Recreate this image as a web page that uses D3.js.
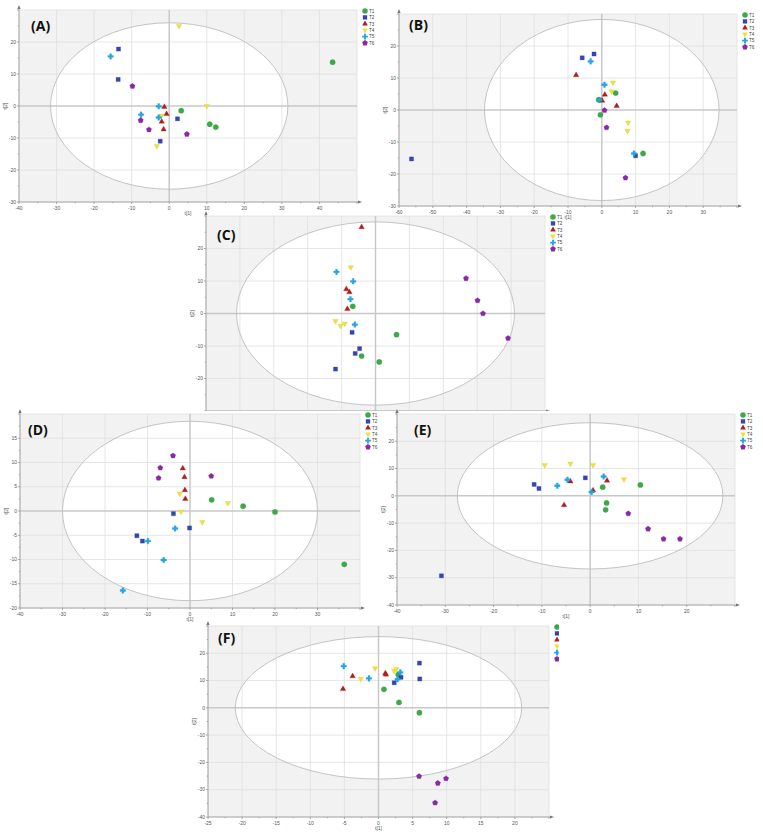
<!DOCTYPE html>
<html><head><meta charset="utf-8">
<script src="https://cdn.jsdelivr.net/npm/d3@7"></script>
<style>body{margin:0;background:#fff}svg{display:block}</style>
</head><body>
<svg id="c" width="763" height="836"></svg>
<script>
// ---------- data ----------
const groups = ["T1","T2","T3","T4","T5","T6"];
const panelNames = ["(A)","(B)","(C)","(D)","(E)","(F)"];
// each panel: one array per group T1..T6 of [t1, t2] scores
const scoresA = [
  [[3.2,-1.45],[10.8,-5.7],[12.4,-6.6],[43.5,13.7]],
  [[-13.5,17.8],[-13.6,8.3],[2.2,-4.0],[-2.4,-11.0]],
  [[-1.3,-0.3],[-0.7,-2.5],[-2.0,-4.9],[-1.5,-7.3]],
  [[2.6,25],[10.0,0],[-2.1,-3.0],[-3.3,-12.5]],
  [[-15.6,15.5],[-2.8,-0.1],[-7.5,-2.7],[-2.8,-3.6]],
  [[-9.8,6.2],[-7.6,-4.5],[-5.4,-7.4],[4.7,-8.8]]
];
const scoresB = [
  [[-0.9,3.2],[4.1,5.3],[-0.4,-1.5],[12.2,-13.6]],
  [[-56.3,-15.3],[-5.8,16.3],[-2.3,17.5],[10.0,-14.3]],
  [[-7.6,10.9],[0.9,4.8],[0.1,2.9],[4.4,1.25]],
  [[3.3,8.6],[2.9,5.8],[7.8,-3.9],[7.6,-6.5]],
  [[-3.3,15.2],[0.8,7.9],[-0.7,3.1],[9.5,-13.6]],
  [[0.8,-0.1],[1.4,-5.5],[7.0,-21.2]]
];
const scoresC = [
  [[-6.7,2.2],[-4.1,-13.1],[1.1,-14.9],[6.2,-6.5]],
  [[-6.9,-5.8],[-4.7,-10.8],[-6.0,-12.3],[-11.8,-17.1]],
  [[-4.1,26.6],[-8.6,7.5],[-7.7,6.6],[-8.3,1.4]],
  [[-7.3,14.2],[-11.8,-2.3],[-10.3,-3.8],[-9.1,-3.1]],
  [[-11.5,12.8],[-6.6,9.9],[-7.4,4.4],[-6.1,-3.4]],
  [[26.7,10.8],[30.1,4.0],[31.7,0],[39.1,-7.6]]
];
const scoresD = [
  [[5.1,2.3],[12.5,1.0],[20.0,-0.2],[36.3,-11.0]],
  [[-3.9,-0.55],[-0.1,-3.5],[-12.5,-5.1],[-11.2,-6.2]],
  [[-1.7,8.8],[-1.3,7.0],[-1.2,4.3],[-1.1,2.5]],
  [[-2.4,3.6],[-2.1,-0.1],[8.9,1.65],[2.9,-2.3]],
  [[-3.5,-3.6],[-9.9,-6.2],[-6.2,-10.1],[-15.8,-16.4]],
  [[-4.0,11.4],[-7.0,8.9],[-7.4,6.8],[5.0,7.2]]
];
const scoresE = [
  [[2.6,3.2],[10.4,4.0],[3.4,-2.6],[3.2,-5.1]],
  [[-30.8,-29.3],[-11.6,4.2],[-10.6,2.7],[-1.0,6.6]],
  [[-4.1,5.3],[-5.4,-3.4],[3.5,5.6],[0.6,2.0]],
  [[-9.4,11.3],[-4.1,11.8],[0.6,11.3],[7.0,6.1]],
  [[-6.8,3.7],[-4.7,5.9],[2.8,7.1],[0.3,1.4]],
  [[7.9,-6.5],[12.0,-12.1],[15.2,-15.8],[18.6,-15.8]]
];
const scoresF = [
  [[0.8,6.8],[3.0,2.0],[6.0,-1.8],[2.9,12.2]],
  [[6.0,16.4],[6.05,10.6],[3.3,11.2],[2.3,9.2]],
  [[-3.8,11.6],[-5.2,6.9],[1.0,12.6],[1.1,12.2]],
  [[-2.6,10.6],[-0.5,14.5],[2.3,13.6],[2.6,14.2]],
  [[-5.1,15.3],[-1.4,10.8],[3.2,13.0],[2.8,10.5]],
  [[5.95,-25.1],[8.7,-27.6],[9.9,-25.9],[8.3,-34.8]]
];
// axis ranges, tick steps and Hotelling ellipse radii (t1, t2)
const xDomains = [[-40,50],[-60,40],[-50,50],[-40,40],[-40,30],[-25,25]];
const yDomains = [[-30,30],[-30,30],[-30,30],[-20,20],[-40,30],[-40,30]];
const xSteps = [10,10,10,10,10,5];
const ySteps = [10,10,10,5,10,10];
const ellipseRadii = [[31.6,26],[34.7,28.3],[41,28.2],[30,18.5],[27.5,26.8],[21,26.1]];
const allScores = [scoresA,scoresB,scoresC,scoresD,scoresE,scoresF];

// ---------- layout / style ----------
const boxes = [
  {l:19,t:10,w:338,h:192, lab:[31,31]},
  {l:399,t:14,w:338,h:192, lab:[409,30]},
  {l:206,t:216,w:339,h:195, lab:[217,240], clip:[0,200,763,211]},
  {l:20,t:414,w:340,h:194, lab:[28,435]},
  {l:397,t:414,w:338,h:191, lab:[414,435]},
  {l:208,t:626,w:341,h:191, lab:[218,643], clip:[0,600,559,236]}
];
const colors = ["#3daa47","#3447b0","#b51d1d","#eee23c","#1ea9ea","#8b27a8"];
function pentagon(r){
  const p=[];
  for(let i=0;i<5;i++){const a=-Math.PI/2+i*2*Math.PI/5;p.push([r*Math.cos(a),r*Math.sin(a)]);}
  return "M"+p.map(d=>d.join(",")).join("L")+"Z";
}
const shapes = [
  s=>d3.symbol(d3.symbolCircle, 22*s)(),
  s=>d3.symbol(d3.symbolSquare, 17*s)(),
  s=>d3.symbol(d3.symbolTriangle, 13*s)(),
  s=>d3.symbol(d3.symbolTriangle, 13*s)(),
  s=>d3.symbol(d3.symbolCross, 17*s)(),
  s=>pentagon(2.8*Math.sqrt(s))
];
const rot = [0,0,0,180,0,0];

const svg = d3.select("#c");
const defs = svg.append("defs");

boxes.forEach((b,pi)=>{
  const x = d3.scaleLinear().domain(xDomains[pi]).range([b.l,b.l+b.w]);
  const y = d3.scaleLinear().domain(yDomains[pi]).range([b.t+b.h,b.t]);
  const c = b.clip || [0,0,763,836];
  const visible = (px,py,wd)=> px+(wd||0) <= c[0]+c[2] && py-3 >= c[1] && py <= c[1]+c[3];
  let g = svg.append("g");
  if(b.clip){
    defs.append("clipPath").attr("id","cp"+pi).append("rect")
      .attr("x",c[0]).attr("y",c[1]).attr("width",c[2]).attr("height",c[3]);
    g.attr("clip-path","url(#cp"+pi+")");
  }
  // background
  g.append("rect").attr("x",b.l).attr("y",b.t).attr("width",b.w).attr("height",b.h).attr("fill","#f2f2f2");
  const er = ellipseRadii[pi];
  g.append("ellipse").attr("cx",x(0)).attr("cy",y(0))
    .attr("rx",x(er[0])-x(0)).attr("ry",y(0)-y(er[1])).attr("fill","#fff");
  const xt = d3.range(xDomains[pi][0], xDomains[pi][1]+1e-6, xSteps[pi]);
  const yt = d3.range(yDomains[pi][0], yDomains[pi][1]+1e-6, ySteps[pi]);
  // grid
  g.selectAll(null).data(xt.filter(v=>v!==0)).join("line")
    .attr("x1",d=>x(d)).attr("x2",d=>x(d)).attr("y1",b.t).attr("y2",b.t+b.h)
    .attr("stroke","#e0e0e0").attr("stroke-width",0.8);
  g.selectAll(null).data(yt.filter(v=>v!==0)).join("line")
    .attr("y1",d=>y(d)).attr("y2",d=>y(d)).attr("x1",b.l).attr("x2",b.l+b.w)
    .attr("stroke","#e0e0e0").attr("stroke-width",0.8);
  // zero lines
  g.append("line").attr("x1",x(0)).attr("x2",x(0)).attr("y1",b.t).attr("y2",b.t+b.h).attr("stroke","#c8c8c8").attr("stroke-width",1.5);
  g.append("line").attr("y1",y(0)).attr("y2",y(0)).attr("x1",b.l).attr("x2",b.l+b.w).attr("stroke","#c8c8c8").attr("stroke-width",1.5);
  g.append("ellipse").attr("cx",x(0)).attr("cy",y(0))
    .attr("rx",x(er[0])-x(0)).attr("ry",y(0)-y(er[1])).attr("fill","none").attr("stroke","#bdbdbd").attr("stroke-width",0.9);
  // axes
  const ax = g.append("g").attr("stroke","#8a8a8a").attr("stroke-width",0.7);
  ax.append("line").attr("x1",b.l).attr("x2",b.l).attr("y1",b.t-3).attr("y2",b.t+b.h);
  ax.append("line").attr("x1",b.l).attr("x2",b.l+b.w+3).attr("y1",b.t+b.h).attr("y2",b.t+b.h);
  g.append("path").attr("d",`M${b.l-1.6},${b.t-1}L${b.l},${b.t-5}L${b.l+1.6},${b.t-1}Z`).attr("fill","#777");
  g.append("path").attr("d",`M${b.l+b.w+1},${b.t+b.h-1.6}L${b.l+b.w+5},${b.t+b.h}L${b.l+b.w+1},${b.t+b.h+1.6}Z`).attr("fill","#777");
  const xm = d3.range(xDomains[pi][0], xDomains[pi][1]+1e-6, xSteps[pi]/2);
  const ym = d3.range(yDomains[pi][0], yDomains[pi][1]+1e-6, ySteps[pi]/2);
  ax.selectAll(null).data(xm).join("line").attr("x1",d=>x(d)).attr("x2",d=>x(d))
    .attr("y1",b.t+b.h).attr("y2",(d,i)=>b.t+b.h+(i%2?1.2:2));
  ax.selectAll(null).data(ym).join("line").attr("y1",d=>y(d)).attr("y2",d=>y(d))
    .attr("x1",b.l).attr("x2",(d,i)=>b.l-(i%2?1.2:2));
  const tf = g.append("g").attr("font-family","Liberation Sans, Arial, sans-serif").attr("font-size",5).attr("fill","#555");
  tf.selectAll(null).data(xt.slice(0,-1).filter(d=>visible(x(d),b.t+b.h+7.5))).join("text")
    .attr("x",d=>x(d)).attr("y",b.t+b.h+7.5).attr("text-anchor","middle").text(d=>d);
  tf.selectAll(null).data(yt.slice(0,-1).filter(d=>visible(b.l-3,y(d)+1.7))).join("text")
    .attr("x",b.l-3).attr("y",d=>y(d)+1.7).attr("text-anchor","end").text(d=>d);
  if(visible(b.l+b.w/2,b.t+b.h+12.5))
    tf.append("text").attr("x",b.l+b.w/2).attr("y",b.t+b.h+12.5).attr("text-anchor","middle").text("t[1]");
  tf.append("text").attr("transform",`translate(${b.l-12},${b.t+b.h/2}) rotate(-90)`).attr("text-anchor","middle").text("t[2]");
  // points
  allScores[pi].forEach((arr,gi)=>{
    g.selectAll(null).data(arr).join("path")
      .attr("d",shapes[gi](1))
      .attr("transform",d=>`translate(${x(d[0])},${y(d[1])}) rotate(${rot[gi]})`)
      .attr("fill",colors[gi]).attr("stroke",d3.color(colors[gi]).darker(0.4)).attr("stroke-width",0.3);
  });
  // legend
  const lx = b.l+b.w+8, ly = b.t+1;
  const lg = g.append("g").attr("transform",`translate(${lx},${ly})`);
  groups.forEach((name,gi)=>{
    lg.append("path").attr("d",shapes[gi](1.1))
      .attr("transform",`translate(0,${gi*6.4}) rotate(${rot[gi]})`).attr("fill",colors[gi]);
    if(visible(lx+4,ly+gi*6.4+1.7,6))
      lg.append("text").attr("x",4).attr("y",gi*6.4+1.7).attr("font-size",4.6)
        .attr("font-family","Liberation Sans, Arial, sans-serif").attr("fill","#444").text(name);
  });
  // panel label
  svg.append("text").attr("x",b.lab[0]).attr("y",b.lab[1]).attr("font-family","Open Sans, Liberation Sans, sans-serif")
    .attr("font-weight","bold").attr("font-size",14).attr("fill","#111").text(panelNames[pi]);
});
</script>
</body></html>
